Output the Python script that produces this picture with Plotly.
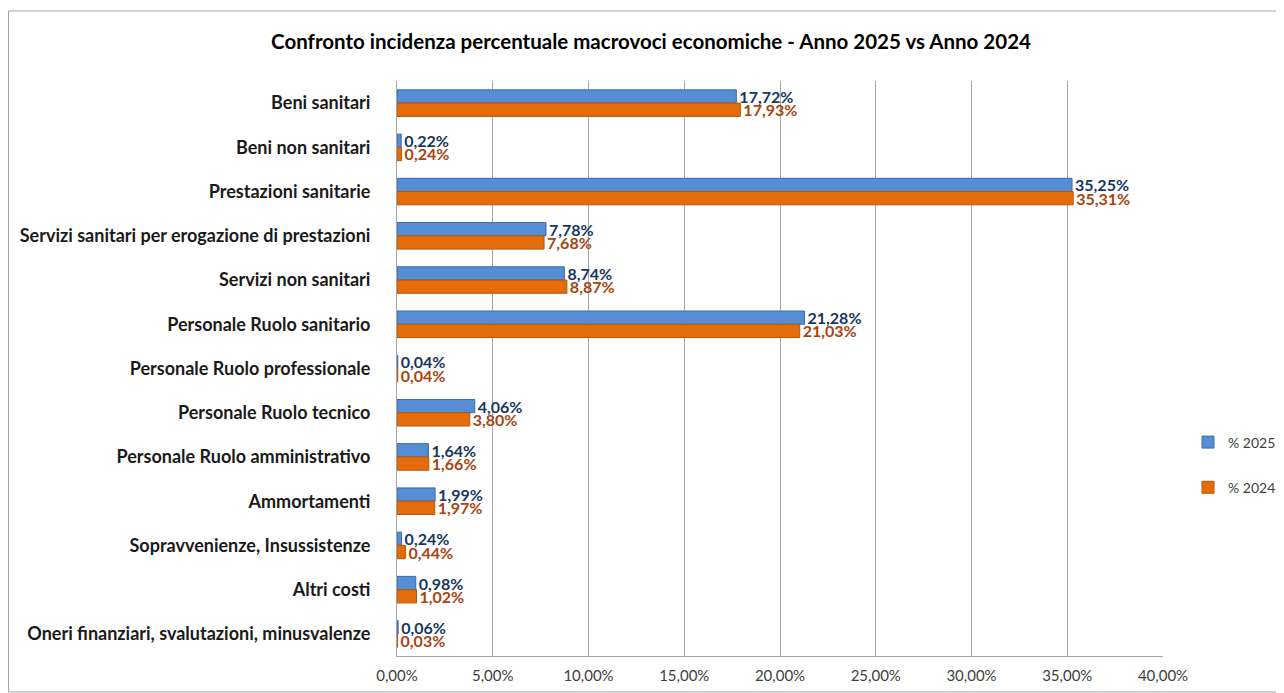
import plotly.graph_objects as go

categories = [
    "Beni sanitari",
    "Beni non sanitari",
    "Prestazioni sanitarie",
    "Servizi sanitari per erogazione di prestazioni",
    "Servizi non sanitari",
    "Personale Ruolo sanitario",
    "Personale Ruolo professionale",
    "Personale Ruolo tecnico",
    "Personale Ruolo amministrativo",
    "Ammortamenti",
    "Sopravvenienze, Insussistenze",
    "Altri costi",
    "Oneri finanziari, svalutazioni, minusvalenze",
]
pct_2025 = [17.72, 0.22, 35.25, 7.78, 8.74, 21.28, 0.04, 4.06, 1.64, 1.99, 0.24, 0.98, 0.06]
pct_2024 = [17.93, 0.24, 35.31, 7.68, 8.87, 21.03, 0.04, 3.80, 1.66, 1.97, 0.44, 1.02, 0.03]
x_ticks = [0, 5, 10, 15, 20, 25, 30, 35, 40]

def fmt(v):
    return f"{v:.2f}%".replace(".", ",")

# page has an 8px body margin; figure coordinates = page coordinates - 8
OFF = 8
W, H = 1284 - OFF, 693 - OFF
L, T = 397 - OFF, 81 - OFF
R = W - (1163 - OFF)
B = H - (656 - OFF)
pw, ph = W - L - R, H - T - B

def px_x(p):
    return (p - OFF - L) / pw

def px_y(p):
    return (H - B - (p - OFF)) / ph

FONT = "Lato"

fig = go.Figure()
fig.add_trace(go.Bar(
    y=categories, x=pct_2025, name="% 2025", orientation="h",
    marker=dict(color="#558ED5", line=dict(color="#3A6AAE", width=1)),
    text=[fmt(v) for v in pct_2025], textposition="outside", constraintext="none",
    textfont=dict(family=FONT, size=16, color="#17375E", weight="bold"),
    cliponaxis=False, legendgroup="a",
))
fig.add_trace(go.Bar(
    y=categories, x=pct_2024, name="% 2024", orientation="h",
    marker=dict(color="#E46C0A", line=dict(color="#B85608", width=1)),
    text=[fmt(v) for v in pct_2024], textposition="outside", constraintext="none",
    textfont=dict(family=FONT, size=16, color="#A8440F", weight="bold"),
    cliponaxis=False, legendgroup="b",
))

fig.add_shape(type="rect", xref="paper", yref="paper",
              x0=px_x(OFF + 0.5), x1=px_x(1282), y0=px_y(692), y1=px_y(11),
              line=dict(color="#A6A6A6", width=1), layer="below")

fig.update_layout(
    width=W, height=H,
    margin=dict(l=L, r=R, t=T, b=B, autoexpand=False),
    paper_bgcolor="white", plot_bgcolor="white",
    barmode="group", bargap=0.4, bargroupgap=0.0,
    separators=",.",
    title=dict(text="<b>Confronto incidenza percentuale macrovoci economiche - Anno 2025 vs Anno 2024</b>",
               x=(651 - OFF) / W, xanchor="center", y=1 - (42 - OFF) / H, yanchor="middle",
               font=dict(family=FONT, size=20.5, color="#000000")),
    font=dict(family=FONT, color="#404040"),
    legend=dict(xref="container", yref="container",
                x=(1188 - OFF) / W, xanchor="left", y=1 - (465 - OFF) / H, yanchor="middle",
                font=dict(family=FONT, size=14, color="#404040"),
                tracegroupgap=24, bgcolor="rgba(0,0,0,0)"),
    xaxis=dict(range=[0, 40], tickvals=x_ticks,
               ticktext=[fmt(v) for v in x_ticks],
               showgrid=True, gridcolor="#A6A6A6", gridwidth=1,
               showline=True, linecolor="#A6A6A6", linewidth=1,
               zeroline=False, ticks="", ticklabelstandoff=6, automargin=False,
               tickfont=dict(family=FONT, size=15, color="#404040"),
               fixedrange=True),
    yaxis=dict(autorange="reversed", showline=True, linecolor="#A6A6A6", linewidth=1,
               ticks="", ticklabelstandoff=22, showgrid=False, automargin=False,
               tickfont=dict(family=FONT, size=18, color="#1A1A1A", weight="bold"),
               fixedrange=True),
)

fig.write_html("out.html")
